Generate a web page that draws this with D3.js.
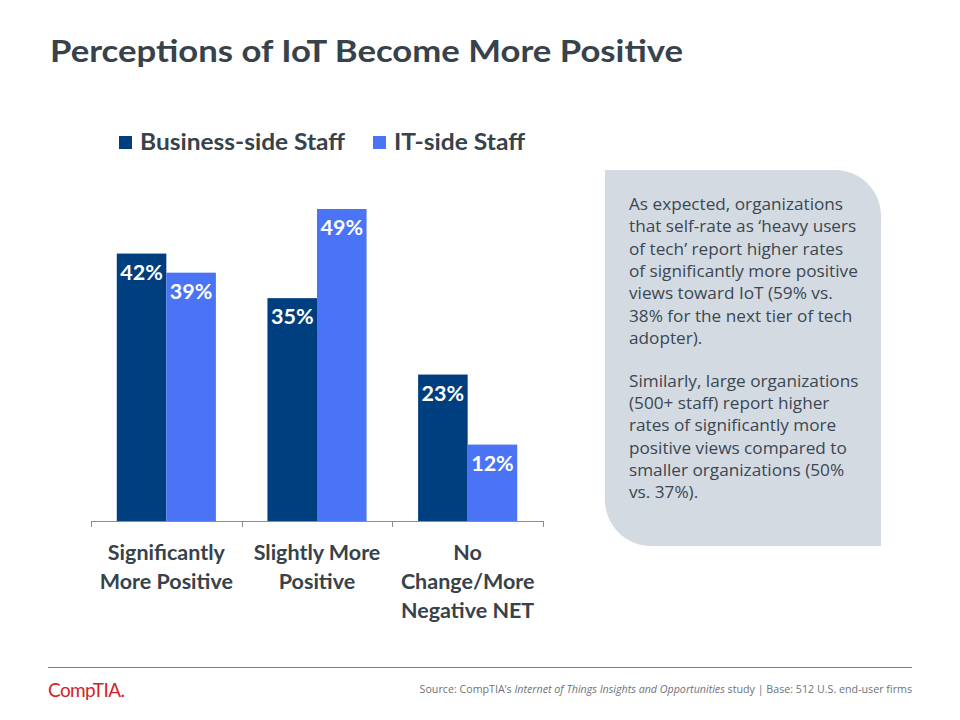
<!DOCTYPE html>
<html><head><meta charset="utf-8">
<script src="https://cdn.jsdelivr.net/npm/d3@7"></script>
<style>body{margin:0;background:#fff}svg{display:block}</style>
</head><body>
<script>
const categories = [["Significantly","More Positive"],["Slightly More","Positive"],["No","Change/More","Negative NET"]];
const seriesNames = ["Business-side Staff","IT-side Staff"];
const business = [42,35,23];
const itSide = [39,49,12];
const colors = ["#003f7f","#4a74f5"];
const noteParas = [
 ["As expected, organizations","that self-rate as \u2018heavy users","of tech\u2019 report higher rates","of significantly more positive","views toward IoT (59% vs.","38% for the next tier of tech","adopter)."],
 ["Similarly, large organizations","(500+ staff) report higher","rates of significantly more","positive views compared to","smaller organizations (50%","vs. 37%)."]
];
const font = "Lato, 'Open Sans', sans-serif";
const ink = "#37424b";

const svg = d3.select("body").append("svg").attr("width",960).attr("height",720);

svg.append("text").attr("x",50).attr("y",62).attr("font-family",font).attr("font-weight",700)
  .attr("font-size",30).attr("fill",ink).attr("textLength",633).attr("lengthAdjust","spacingAndGlyphs")
  .text("Perceptions of IoT Become More Positive");

// legend
const leg = [{x:119,w:205,name:seriesNames[0]},{x:373,w:131,name:seriesNames[1]}];
leg.forEach((l,i)=>{
  svg.append("rect").attr("x",l.x).attr("y",136).attr("width",13).attr("height",13).attr("fill",colors[i]);
  svg.append("text").attr("x",l.x+21).attr("y",150).attr("font-family",font).attr("font-weight",700)
   .attr("font-size",22).attr("fill",ink).attr("textLength",l.w).attr("lengthAdjust","spacingAndGlyphs").text(l.name);
});

const x0 = d3.scaleBand().domain(d3.range(categories.length)).range([91,543]).paddingInner(0).paddingOuter(0);
const x1 = d3.scaleBand().domain([0,1]).range([0,x0.bandwidth()]).paddingOuter(0.52).paddingInner(0);
const y = d3.scaleLinear().domain([0,49]).range([521,209]);

const series = [business,itSide];
series.forEach((vals,si)=>{
  const g = svg.append("g");
  g.selectAll("rect").data(vals).join("rect")
   .attr("x",(d,i)=>x0(i)+x1(si)).attr("width",x1.bandwidth())
   .attr("y",d=>y(d)).attr("height",d=>y(0)-y(d)).attr("fill",colors[si]);
  g.selectAll("text").data(vals).join("text")
   .attr("x",(d,i)=>x0(i)+x1(si)+x1.bandwidth()/2).attr("y",d=>y(d)+26)
   .attr("text-anchor","middle").attr("font-family",font).attr("font-weight",700)
   .attr("font-size",21.5).attr("fill","#fff").text(d=>d+"%");
});

// axis
const axis = svg.append("g");
axis.append("line").attr("x1",91).attr("x2",543).attr("y1",521.5).attr("y2",521.5).attr("stroke","#8c8c8c");
d3.range(categories.length+1).forEach(i=>{
  const xx = i<categories.length? x0(i): x0(categories.length-1)+x0.bandwidth();
  axis.append("line").attr("x1",Math.round(xx)+0.5).attr("x2",Math.round(xx)+0.5).attr("y1",521).attr("y2",527).attr("stroke","#8c8c8c");
});
categories.forEach((lines,i)=>{
  const t = svg.append("text").attr("text-anchor","middle").attr("font-family",font).attr("font-weight",700)
    .attr("font-size",21.5).attr("fill",ink);
  lines.forEach((ln,j)=>t.append("tspan").attr("x",x0(i)+x0.bandwidth()/2).attr("y",560+j*29).text(ln));
});

// note box
const bx=605, by=170, bw=276, bh=376, r=46;
svg.append("path").attr("fill","#d4dae1")
 .attr("d",`M${bx},${by} H${bx+bw-r} A${r},${r} 0 0 1 ${bx+bw},${by+r} V${by+bh} H${bx+r} A${r},${r} 0 0 1 ${bx},${by+bh-r} Z`);
let ly = 210;
const nt = svg.append("text").attr("font-family","'Open Sans', sans-serif").attr("font-size",17.2).attr("fill","#3b4752");
noteParas.forEach((p,pi)=>{
  p.forEach(ln=>{ nt.append("tspan").attr("x",629).attr("y",ly).text(ln); ly+=22.3; });
  ly += 20.7;
});

// footer
svg.append("line").attr("x1",48).attr("x2",912).attr("y1",667.5).attr("y2",667.5).attr("stroke","#7a7f85").attr("stroke-width",1);
svg.append("text").attr("x",48).attr("y",697).attr("font-family",font).attr("font-size",19).attr("fill","#d2232a")
 .attr("letter-spacing",-0.6).text("CompTIA.");
const src = svg.append("text").attr("x",912).attr("y",693).attr("text-anchor","end").attr("font-family","'Open Sans', sans-serif")
 .attr("font-size",10.7).attr("fill","#6e7378");
src.append("tspan").text("Source: CompTIA\u2019s ");
src.append("tspan").attr("font-style","italic").text("Internet of Things Insights and Opportunities");
src.append("tspan").text(" study | Base: 512 U.S. end-user firms");
</script>
</body></html>
